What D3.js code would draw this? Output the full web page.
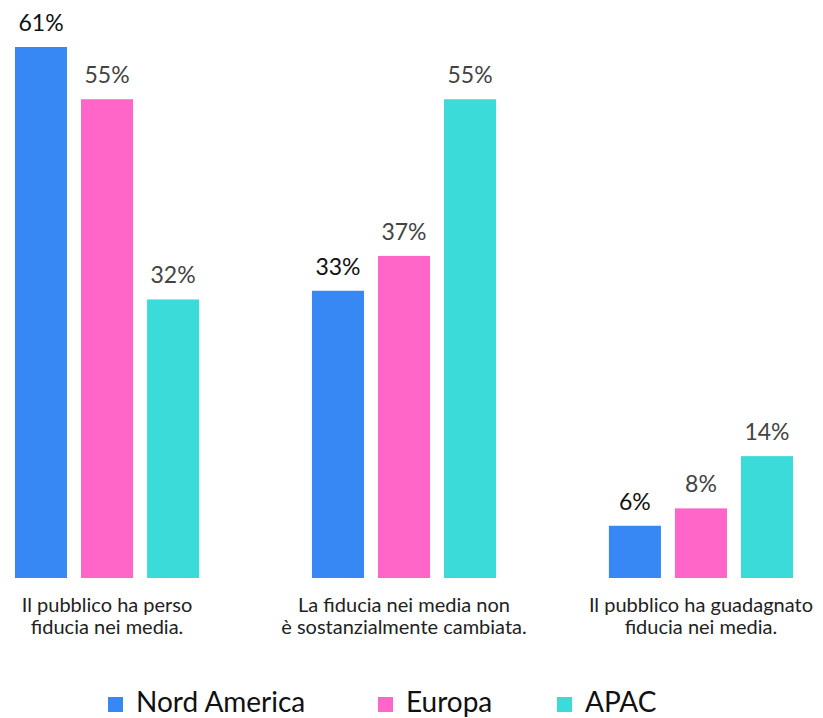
<!DOCTYPE html>
<html>
<head>
<meta charset="utf-8">
<script src="https://cdn.jsdelivr.net/npm/d3@7"></script>
<style>
  html, body { margin: 0; padding: 0; background: #fff; }
  svg { display: block; font-family: "Lato", "Open Sans", sans-serif; }
</style>
</head>
<body>
<svg id="chart" width="823" height="718"></svg>
<script>
// Survey answers, grouped by statement, one bar per region
const categories = [
  ["Il pubblico ha perso", "fiducia nei media."],
  ["La fiducia nei media non", "è sostanzialmente cambiata."],
  ["Il pubblico ha guadagnato", "fiducia nei media."]
];
const series = ["Nord America", "Europa", "APAC"];
const nordAmerica = [61, 33, 6];
const europa = [55, 37, 8];
const apac = [32, 55, 14];
const seriesValues = [nordAmerica, europa, apac];
const colors = ["#3788f5", "#ff66c8", "#3adbd8"];
const labelColors = ["#111111", "#444444", "#444444"];

const svg = d3.select("#chart");
const baseline = 578;

const x0 = d3.scaleBand()
  .domain(d3.range(categories.length))
  .range([15, 793])
  .paddingInner(0.38)
  .paddingOuter(0);

const x1 = d3.scaleBand()
  .domain(d3.range(series.length))
  .range([0, x0.bandwidth()])
  .paddingInner(0.212)
  .paddingOuter(0);

const y = d3.scaleLinear()
  .domain([0, 61])
  .range([baseline, 47]);

const groups = svg.selectAll("g.group")
  .data(categories)
  .join("g")
  .attr("class", "group")
  .attr("transform", (d, i) => `translate(${x0(i)},0)`);

groups.each(function(cat, ci) {
  const g = d3.select(this);
  const rows = series.map((s, si) => ({ si, value: seriesValues[si][ci] }));

  g.selectAll("rect")
    .data(rows)
    .join("rect")
    .attr("x", d => x1(d.si))
    .attr("y", d => y(d.value))
    .attr("width", x1.bandwidth())
    .attr("height", d => baseline - y(d.value))
    .attr("fill", d => colors[d.si]);

  g.selectAll("text.value")
    .data(rows)
    .join("text")
    .attr("class", "value")
    .attr("x", d => x1(d.si) + x1.bandwidth() / 2)
    .attr("y", d => y(d.value) - 16)
    .attr("text-anchor", "middle")
    .attr("font-size", 23)
    .attr("fill", d => labelColors[d.si])
    .text(d => d.value + "%");

  const label = g.append("text")
    .attr("class", "category")
    .attr("text-anchor", "middle")
    .attr("font-size", 20)
    .attr("fill", "#222");
  cat.forEach((line, li) => {
    label.append("tspan")
      .attr("x", x0.bandwidth() / 2)
      .attr("y", 612 + li * 22)
      .text(line);
  });
});

// Legend
const legendX = [108, 378, 557];
const legend = svg.selectAll("g.legend")
  .data(series)
  .join("g")
  .attr("class", "legend")
  .attr("transform", (d, i) => `translate(${legendX[i]},697)`);

legend.append("rect")
  .attr("width", 15)
  .attr("height", 15)
  .attr("fill", (d, i) => colors[i]);

legend.append("text")
  .attr("x", 28)
  .attr("y", 15)
  .attr("font-size", 28)
  .attr("fill", "#111")
  .text(d => d);
</script>
</body>
</html>
